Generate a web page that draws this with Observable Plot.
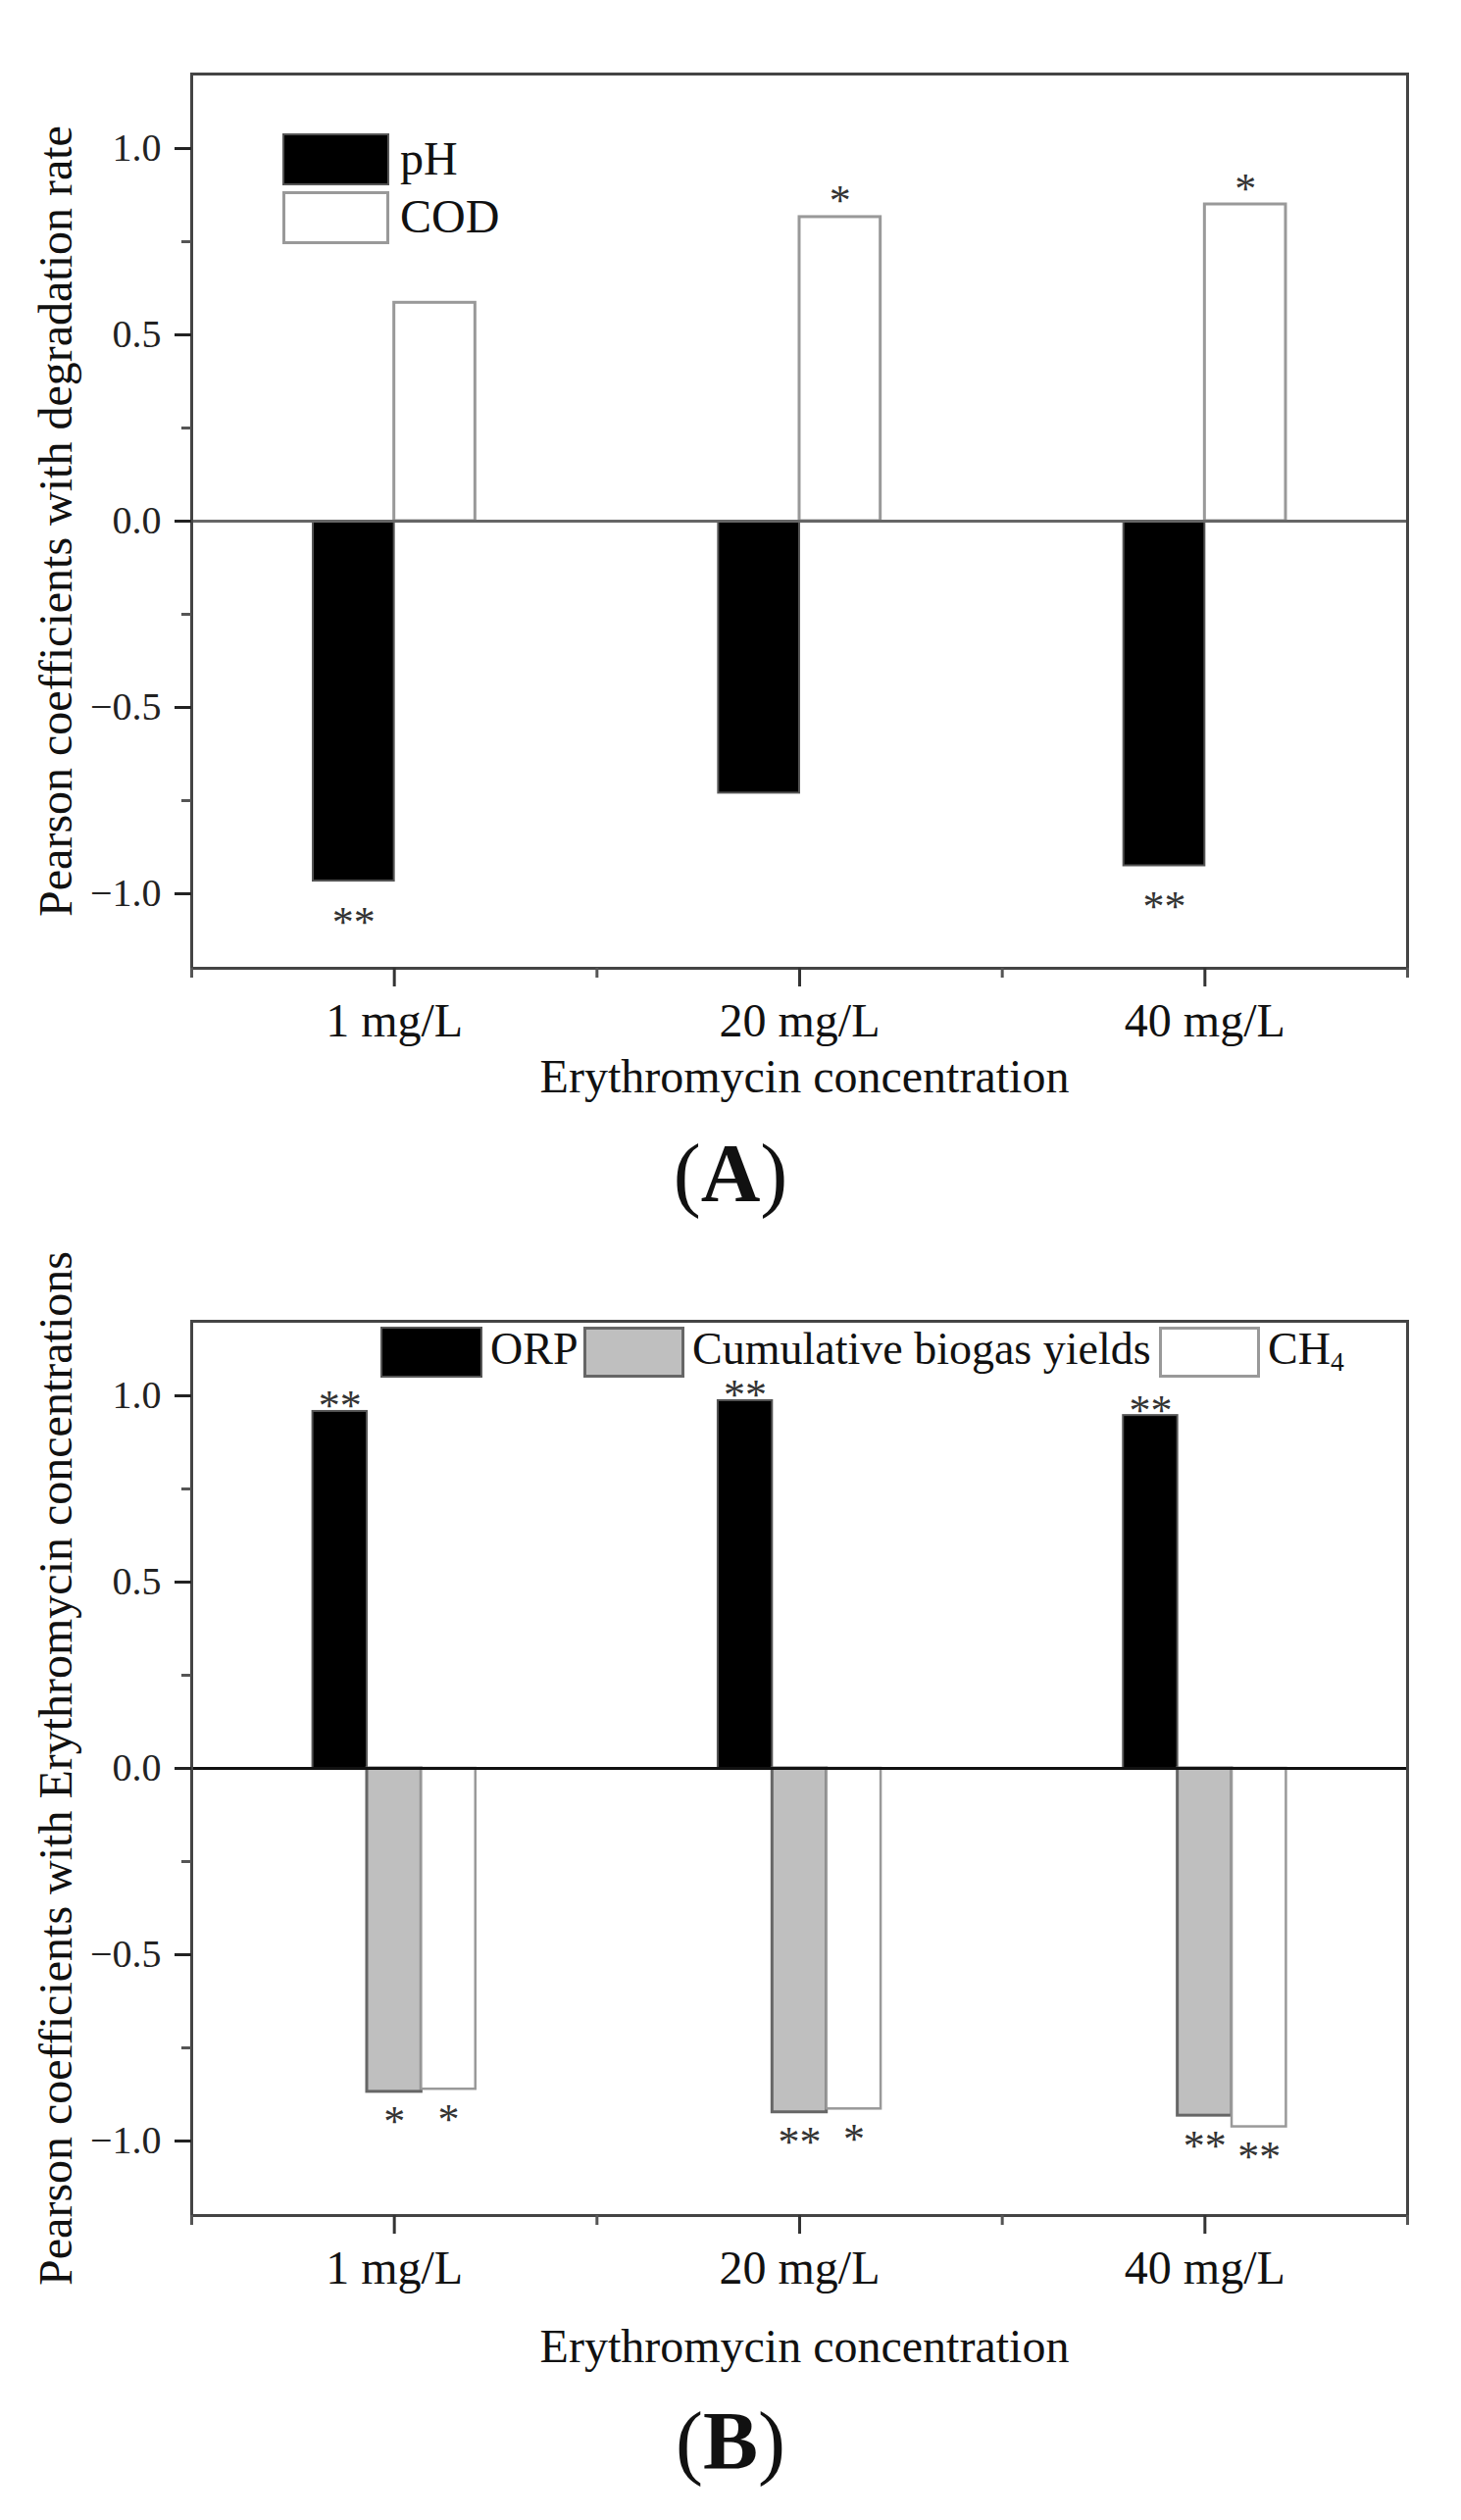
<!DOCTYPE html>
<html><head><meta charset="utf-8">
<script src="https://cdn.jsdelivr.net/npm/d3@7"></script>
<script src="https://cdn.jsdelivr.net/npm/@observablehq/plot@0.6"></script>
<style>
body{margin:0;background:#fff;}
#wrap{position:relative;width:1490px;height:2570px;font-family:"Liberation Serif","Times New Roman",serif;color:#111;overflow:hidden;}
.abs{position:absolute;line-height:1;white-space:nowrap;}
.sw{position:absolute;box-sizing:border-box;}
.panel{position:absolute;left:0;}
</style></head><body><div id="wrap"></div>
<script>
// ---- data ----
const concentrations = ["1 mg/L", "20 mg/L", "40 mg/L"];
const phValues = [-0.966, -0.73, -0.925];
const codValues = [0.586, 0.816, 0.85];
const phStars = ["**", "", "**"];
const codStars = ["", "*", "*"];
const orpValues = [0.958, 0.987, 0.947];
const biogasValues = [-0.868, -0.923, -0.932];
const ch4Values = [-0.861, -0.914, -0.962];
const orpStars = ["**", "**", "**"];
const biogasStars = ["*", "**", "**"];
const ch4Stars = ["*", "*", "**"];
const yTicks = [-1, -0.5, 0, 0.5, 1];
const yMinorTicks = [-0.75, -0.25, 0.25, 0.75];
const yDomain = [-1.2, 1.2];
const xLabel = "Erythromycin concentration";
const yLabelA = "Pearson coefficients with degradation rate";
const yLabelB = "Pearson coefficients with Erythromycin concentrations";

const serif = '"Liberation Serif","Times New Roman",serif';
const wrap = document.getElementById("wrap");

function rowsOf(values, stars) {
  return concentrations.map((c, i) => ({i, conc: c, value: values[i], star: stars[i]}));
}

function panel({series, w, starNeg, starPos, yLabel, xLabelDy, zeroColor}) {
  const n = series.length;
  const marks = [];
  series.forEach((s, k) => {
    const rows = rowsOf(s.values, s.stars);
    const start = d => d.i + 0.5 - n * w / 2 + k * w;
    marks.push(Plot.rectY(rows, {
      x1: start, x2: d => start(d) + w, y1: 0, y2: "value",
      fill: s.fill, stroke: s.stroke, strokeWidth: s.sw
    }));
    marks.push(Plot.text(rows.filter(d => d.star && d.value < 0), {
      x: d => start(d) + w / 2, y: "value", text: "star", lineAnchor: "bottom",
      dy: starNeg, fontSize: 44, fill: "#333"
    }));
    marks.push(Plot.text(rows.filter(d => d.star && d.value > 0), {
      x: d => start(d) + w / 2, y: "value", text: "star", lineAnchor: "bottom",
      dy: starPos, fontSize: 44, fill: "#333"
    }));
  });
  marks.push(Plot.ruleY([0], {stroke: zeroColor, strokeWidth: 3}));
  marks.push(Plot.frame({stroke: "#444", strokeWidth: 3}));
  marks.push(Plot.axisY({ticks: yTicks, tickFormat: d3.format(".1f"), tickSize: 17, tickPadding: 14,
    fontSize: 40, strokeWidth: 3, stroke: "#222", fill: "#222", label: null}));
  marks.push(Plot.axisY({ticks: yMinorTicks, tickFormat: () => "", tickSize: 10, strokeWidth: 3, stroke: "#555", label: null}));
  marks.push(Plot.axisX({ticks: concentrations.map((c, i) => i + 0.5), tickFormat: t => concentrations[Math.round(t - 0.5)],
    tickSize: 19, tickPadding: 16, fontSize: 48, strokeWidth: 3, stroke: "#333", fill: "#111", label: null}));
  marks.push(Plot.axisX({ticks: d3.range(concentrations.length + 1), tickFormat: () => "", tickSize: 10, strokeWidth: 3, stroke: "#555", label: null}));
  marks.push(Plot.text([yLabel], {frameAnchor: "left", rotate: -90, dx: -123, lineAnchor: "bottom",
    textAnchor: "middle", fontSize: 48, fill: "#111"}));
  marks.push(Plot.text([xLabel], {frameAnchor: "bottom", dx: 5, dy: xLabelDy, lineAnchor: "bottom",
    textAnchor: "middle", fontSize: 48, fill: "#111"}));
  return Plot.plot({
    width: 1490, height: 75 + 912 + xLabelDy + 30,
    marginLeft: 195, marginRight: 55, marginTop: 75, marginBottom: xLabelDy + 30,
    x: {domain: [0, concentrations.length]},
    y: {domain: yDomain},
    style: {fontFamily: serif, fontSize: "48px", color: "#111", background: "white", overflow: "visible"},
    marks
  });
}

const svgA = panel({
  series: [
    {values: phValues, stars: phStars, fill: "#000", stroke: "#555", sw: 2},
    {values: codValues, stars: codStars, fill: "#fff", stroke: "#999", sw: 3}
  ],
  w: 0.2, starNeg: 56, starPos: -2, yLabel: yLabelA, xLabelDy: 126, zeroColor: "#666"
});
svgA.classList.add("panel"); svgA.style.top = "0px";
wrap.appendChild(svgA);

const svgB = panel({
  series: [
    {values: orpValues, stars: orpStars, fill: "#000", stroke: "#555", sw: 2},
    {values: biogasValues, stars: biogasStars, fill: "#bfbfbf", stroke: "#666", sw: 3},
    {values: ch4Values, stars: ch4Stars, fill: "#fff", stroke: "#999", sw: 2.5}
  ],
  w: 0.134, starNeg: 45, starPos: 9, yLabel: yLabelB, xLabelDy: 149, zeroColor: "#111"
});
svgB.classList.add("panel"); svgB.style.top = "1272px";
wrap.appendChild(svgB);

// ---- legends & panel labels (HTML overlays) ----
function sw(left, top, w, h, bg, border) {
  const d = document.createElement("div");
  d.className = "sw";
  Object.assign(d.style, {left: left + "px", top: top + "px", width: w + "px", height: h + "px", background: bg, border});
  wrap.appendChild(d);
}
function txt(left, baseline, size, html, extra = {}) {
  const d = document.createElement("div");
  d.className = "abs";
  d.innerHTML = html;
  Object.assign(d.style, {left: left + "px", top: (baseline - 0.8375 * size) + "px", fontSize: size + "px"}, extra);
  wrap.appendChild(d);
}
const legendA = ["pH", "COD"];
sw(288, 136, 109, 53, "#000", "2px solid #555");
sw(288, 195, 109, 54, "#fff", "3px solid #999");
txt(408, 178, 48, legendA[0]);
txt(408, 237, 48, legendA[1]);

const legendB = ["ORP", "Cumulative biogas yields", "CH<sub style='font-size:0.6em;vertical-align:-0.25em'>4</sub>"];
sw(388, 1353, 104, 52, "#000", "2px solid #555");
txt(500, 1392, 46, legendB[0]);
sw(595, 1353, 103, 52, "#bfbfbf", "3px solid #666");
txt(706, 1392, 46, legendB[1]);
sw(1182, 1353, 103, 52, "#fff", "3px solid #999");
txt(1293, 1392, 46, legendB[2]);

txt(0, 1225, 84, "(<b>A</b>)", {width: "1490px", textAlign: "center"});
txt(0, 2518, 84, "(<b>B</b>)", {width: "1490px", textAlign: "center"});
</script></body></html>
